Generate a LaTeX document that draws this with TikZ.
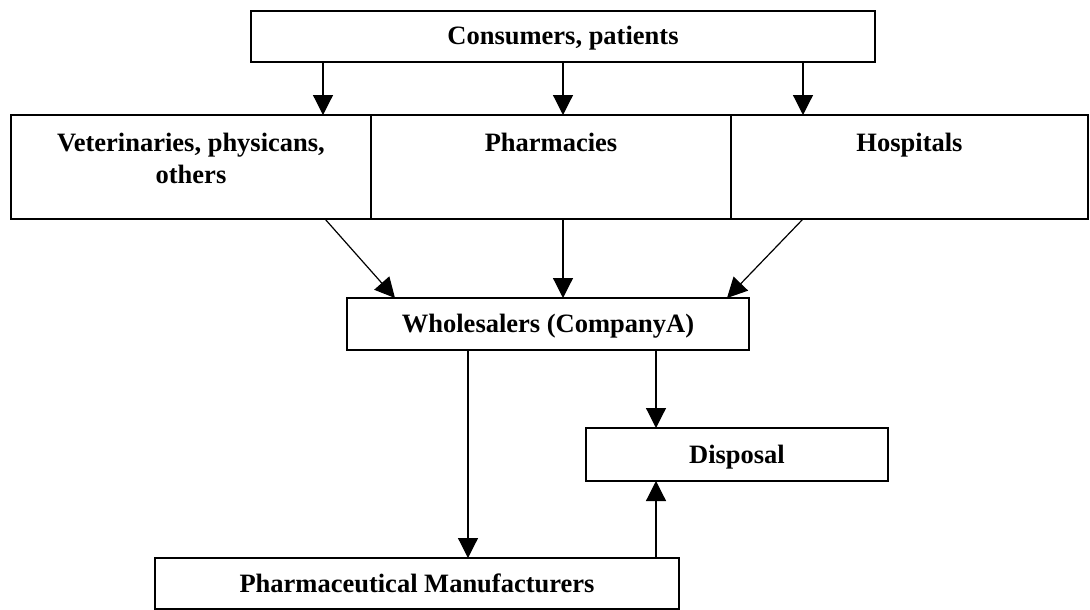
\documentclass[tikz,border=0pt]{standalone}
\usepackage{fontspec}
\setmainfont{Liberation Serif}
\usetikzlibrary{arrows.meta}
\begin{document}
\begin{tikzpicture}[x=1pt,y=-1pt,
  font=\bfseries\fontsize{26.5}{32}\selectfont,
  box/.style={draw, line width=1.4pt, rectangle, inner sep=0pt, outer sep=0pt,
              text height=18pt, text depth=1pt},
  toplabel/.style={anchor=north, inner sep=0pt, yshift=-18pt, align=center},
  arr/.style={line width=1.2pt, -{Triangle[length=20pt,width=20pt]}}]
\useasboundingbox (0,0) rectangle (1090,610);

% top level
\node[box, minimum width=624pt, minimum height=51pt] (cons) at (563,36.5) {Consumers, patients};

% middle row of three adjoining boxes
\node[box, minimum width=360pt, minimum height=104pt,
      label={[toplabel]north:Veterinaries, physicans,\\others}] (vet) at (191,167) {};
\node[box, minimum width=360pt, minimum height=104pt,
      label={[toplabel]north:Pharmacies}] (pharm) at (551,167) {};
\node[box, minimum width=357pt, minimum height=104pt,
      label={[toplabel]north:Hospitals}] (hosp) at (909.5,167) {};

% lower boxes
\node[box, minimum width=402pt, minimum height=52pt] (whole) at (548,324) {Wholesalers (CompanyA)};
\node[box, minimum width=302pt, minimum height=53pt] (disp) at (737,454.5) {Disposal};
\node[box, minimum width=524pt, minimum height=51pt] (pm) at (417,583.5) {Pharmaceutical Manufacturers};

% consumers to the middle row
\draw[arr] ([xshift=-240pt]cons.south) -- ([xshift=-240pt]cons.south |- vet.north);
\draw[arr] (cons.south) -- (cons.south |- pharm.north);
\draw[arr] ([xshift=240pt]cons.south) -- ([xshift=240pt]cons.south |- hosp.north);

% middle row to wholesalers
\draw[arr] ([xshift=134pt]vet.south) -- ([xshift=-153pt]whole.north);
\draw[arr] ([xshift=12pt]pharm.south) -- ([xshift=12pt]pharm.south |- whole.north);
\draw[arr] ([xshift=-106.5pt]hosp.south) -- ([xshift=179pt]whole.north);

% wholesalers onwards
\draw[arr] ([xshift=-80pt]whole.south) -- ([xshift=-80pt]whole.south |- pm.north);
\draw[arr] ([xshift=108pt]whole.south) -- ([xshift=108pt]whole.south |- disp.north);
\draw[arr] ([xshift=239pt]pm.north) -- ([xshift=239pt]pm.north |- disp.south);
\end{tikzpicture}
\end{document}
